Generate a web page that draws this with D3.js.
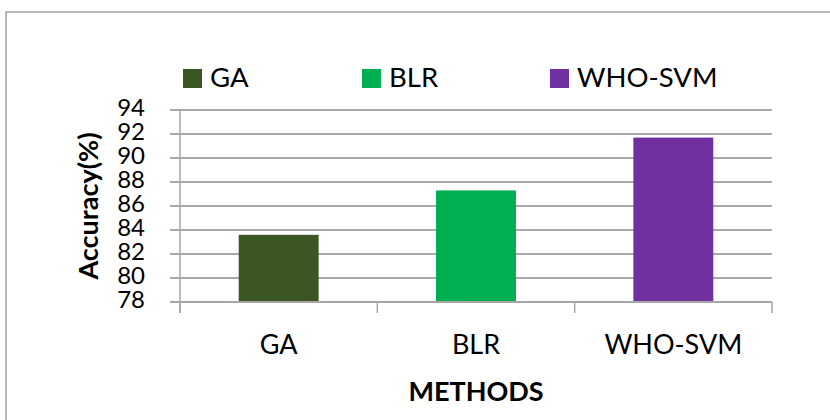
<!DOCTYPE html>
<html>
<head>
<meta charset="utf-8">
<script src="https://cdn.jsdelivr.net/npm/d3@7"></script>
<style>
  html, body { margin: 0; padding: 0; background: #fff; }
  svg { display: block; }
  text { font-family: Lato, "Open Sans", sans-serif; fill: #000; }
</style>
</head>
<body>
<svg id="chart" width="830" height="420"></svg>
<script>
// Accuracy of each method
const methods = ["GA", "BLR", "WHO-SVM"];
const accuracy = [83.6, 87.3, 91.7];
const barColors = ["#3b5523", "#00b050", "#7030a0"];
const yTicks = [78, 80, 82, 84, 86, 88, 90, 92, 94];

const svg = d3.select("#chart");

// outer chart frame
svg.append("rect")
  .attr("x", 6).attr("y", 12)
  .attr("width", 900).attr("height", 500)
  .attr("fill", "none")
  .attr("stroke", "#a0a0a0")
  .attr("stroke-width", 1.5);

const plot = { left: 180, right: 772, top: 110, bottom: 302 };

const x = d3.scaleBand()
  .domain(methods)
  .range([plot.left, plot.right])
  .padding(0);

const y = d3.scaleLinear()
  .domain([78, 94])
  .range([plot.bottom, plot.top]);

// horizontal gridlines with left ticks
svg.append("g")
  .selectAll("line")
  .data(yTicks.slice(1))
  .join("line")
  .attr("x1", plot.left - 10).attr("x2", plot.right)
  .attr("y1", d => y(d)).attr("y2", d => y(d))
  .attr("stroke", "#8c8c8c")
  .attr("stroke-width", 1.5);

// y axis labels
const yAxis = d3.axisLeft(y).tickValues(yTicks).tickSize(0).tickPadding(0);
const gy = svg.append("g").attr("transform", `translate(${plot.left - 35},0)`).call(yAxis);
gy.select(".domain").remove();
gy.selectAll("text")
  .attr("font-family", "Lato, sans-serif")
  .attr("font-size", 24)
  .attr("dy", "0.22em")
  .attr("fill", "#000");

// bars
const barW = x.bandwidth() * 0.405;
svg.append("g")
  .selectAll("rect")
  .data(methods)
  .join("rect")
  .attr("x", d => x(d) + (x.bandwidth() - barW) / 2)
  .attr("width", barW)
  .attr("y", (d, i) => y(accuracy[i]))
  .attr("height", (d, i) => y(78) - y(accuracy[i]))
  .attr("fill", (d, i) => barColors[i]);

// vertical axis line
svg.append("line")
  .attr("x1", plot.left).attr("x2", plot.left)
  .attr("y1", plot.top).attr("y2", plot.bottom + 11)
  .attr("stroke", "#a6a6a6").attr("stroke-width", 1.5);

// category axis with boundary ticks
svg.append("line")
  .attr("x1", plot.left - 10).attr("x2", plot.right)
  .attr("y1", plot.bottom).attr("y2", plot.bottom)
  .attr("stroke", "#a6a6a6").attr("stroke-width", 2);

const bounds = methods.map(m => x(m) + x.bandwidth()).concat([plot.left]);
svg.append("g")
  .selectAll("line")
  .data(bounds)
  .join("line")
  .attr("x1", d => d).attr("x2", d => d)
  .attr("y1", plot.bottom).attr("y2", plot.bottom + 11)
  .attr("stroke", "#a6a6a6").attr("stroke-width", 1.5);

// category labels
svg.append("g")
  .selectAll("text")
  .data(methods)
  .join("text")
  .attr("x", d => x(d) + x.bandwidth() / 2)
  .attr("y", 354)
  .attr("text-anchor", "middle")
  .attr("font-size", 27)
  .text(d => d);

// axis titles
svg.append("text")
  .attr("x", (plot.left + plot.right) / 2)
  .attr("y", 401)
  .attr("text-anchor", "middle")
  .attr("font-weight", "bold")
  .attr("font-size", 27)
  .text("METHODS");

svg.append("text")
  .attr("transform", `translate(98,206) rotate(-90)`)
  .attr("text-anchor", "middle")
  .attr("font-weight", "bold")
  .attr("font-size", 27)
  .text("Accuracy(%)");

// legend
const legendX = [183, 362, 550];
const legend = svg.append("g")
  .selectAll("g")
  .data(methods)
  .join("g")
  .attr("transform", (d, i) => `translate(${legendX[i]},69)`);
legend.append("rect")
  .attr("width", 19).attr("height", 19)
  .attr("fill", (d, i) => barColors[i]);
legend.append("text")
  .attr("x", 27).attr("y", 18)
  .attr("font-size", 27.5)
  .text(d => d);
</script>
</body>
</html>
